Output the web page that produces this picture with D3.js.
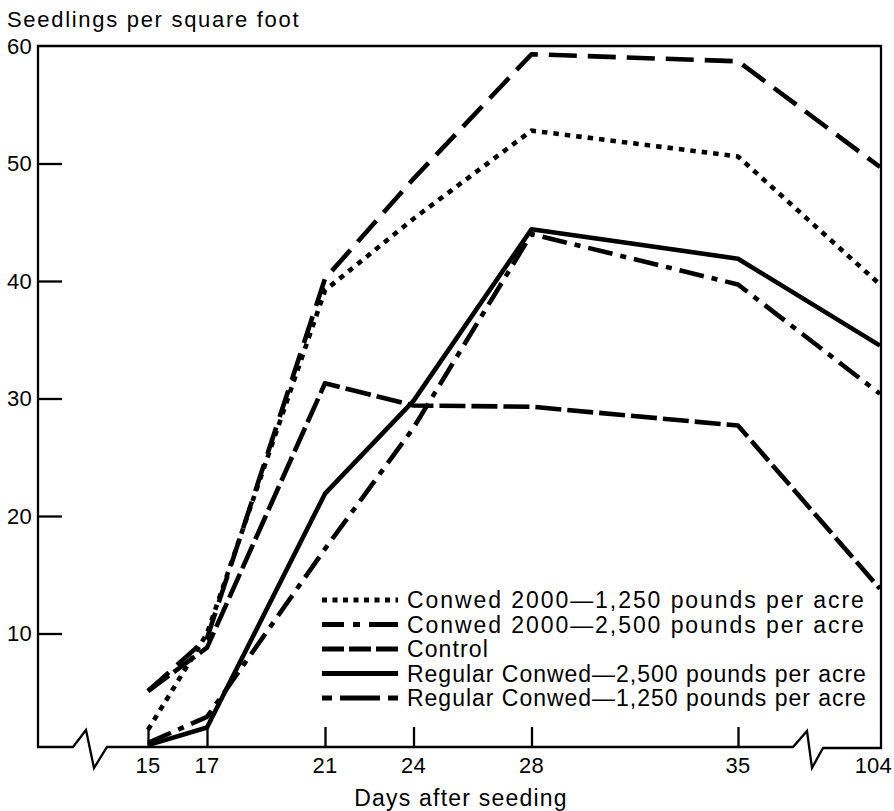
<!DOCTYPE html>
<html><head><meta charset="utf-8">
<script src="https://cdn.jsdelivr.net/npm/d3@7"></script>
<style>
body{margin:0;background:#fff}
text{font-family:"Liberation Sans",Arial,Helvetica,sans-serif;fill:#000}
</style>
</head><body>
<svg id="chart" width="894" height="811"></svg>
<script>
// ---- data ----
const days = [15, 17, 21, 24, 28, 35, 104];
const xTickLabels = ["15", "17", "21", "24", "28", "35", "104"];
const yTickValues = [10, 20, 30, 40, 50, 60];
const seriesNames = [
  "Conwed 2000\u20141,250 pounds per acre",
  "Conwed 2000\u20142,500 pounds per acre",
  "Control",
  "Regular Conwed\u20142,500 pounds per acre",
  "Regular Conwed\u20141,250 pounds per acre"
];
const conwed2000_1250 = [1.8, 10.0, 39.2, 45.3, 52.8, 50.6, 39.7];
const conwed2000_2500 = [5.1, 9.6, 40.2, 48.7, 59.3, 58.7, 49.7];
const control         = [5.1, 8.8, 31.3, 29.4, 29.3, 27.7, 13.8];
const regular2500     = [0.5, 2.0, 21.9, 29.8, 44.4, 41.9, 34.5];
const regular1250     = [0.7, 2.9, 17.2, 27.5, 44.0, 39.7, 30.4];
const seriesValues = [conwed2000_1250, conwed2000_2500, control, regular2500, regular1250];

// ---- styles ----
const lineDash   = ["5.5,6", "28,11", "26,6", null, "25,8,6,8"];
const legendDash = ["5,5.5", "22,9,7,9,29", "22,5,22,5,22", null, "10,8,40,8,10"];
const legendTextLen = [458, 458, null, 460, 460];

const svg = d3.select("#chart");
const x = d3.scaleLinear().domain([15, 35, 104]).range([148, 738, 880]);
const y = d3.scaleLinear().domain([0, 60]).range([751, 46]);
const leftX = 38, rightX = 881, topY = y(60), axisY = 747;

// frame with axis breaks
const fr = d3.path();
fr.moveTo(leftX, topY);
fr.lineTo(leftX, axisY);
fr.lineTo(73, axisY); fr.lineTo(86, axisY - 17); fr.lineTo(94, axisY + 21); fr.lineTo(107, axisY);
fr.lineTo(793, axisY); fr.lineTo(807, axisY - 16); fr.lineTo(812, axisY + 21); fr.lineTo(823, axisY + 1);
fr.lineTo(rightX, axisY + 1);
fr.lineTo(rightX, topY);
fr.closePath();
svg.append("path").attr("d", fr.toString()).attr("fill", "none")
  .attr("stroke", "#000").attr("stroke-width", 2.3);

// y ticks (inward)
const yAxis = d3.axisRight(y).tickValues(yTickValues.filter(v => v < 60)).tickSize(24).tickFormat("");
svg.append("g").attr("transform", `translate(${leftX},0)`).call(yAxis)
  .call(g => g.select(".domain").remove())
  .call(g => g.selectAll("line").attr("stroke", "#000").attr("stroke-width", 2.3));
svg.append("g").selectAll("text").data(yTickValues).join("text")
  .attr("x", 32).attr("y", d => y(d)).attr("dy", "0.36em")
  .attr("text-anchor", "end").style("font-size", "22px").style("letter-spacing", "0.3px")
  .text(d => d);

// x ticks (upward)
const xAxis = d3.axisTop(x).tickValues(days.slice(0, 6)).tickSize(20).tickFormat("");
svg.append("g").attr("transform", `translate(0,${axisY})`).call(xAxis)
  .call(g => g.select(".domain").remove())
  .call(g => g.selectAll("line").attr("stroke", "#000").attr("stroke-width", 2.3));
svg.append("g").selectAll("text").data(days).join("text")
  .attr("x", d => d === 104 ? 892 : x(d)).attr("y", 773)
  .attr("text-anchor", d => d === 104 ? "end" : "middle")
  .style("font-size", "22px").style("letter-spacing", "0.2px")
  .text((d, i) => xTickLabels[i]);

// titles
svg.append("text").attr("x", 7).attr("y", 27).style("font-size", "22px")
  .style("letter-spacing", "1.7px").text("Seedlings per square foot");
svg.append("text").attr("x", 461).attr("y", 806).attr("text-anchor", "middle")
  .style("font-size", "23px").style("letter-spacing", "1.2px").text("Days after seeding");

// series lines
const line = d3.line().x((d, i) => x(days[i])).y(d => y(d));
svg.append("g").selectAll("path").data(seriesValues).join("path")
  .attr("d", d => line(d))
  .attr("fill", "none").attr("stroke", "#000").attr("stroke-width", 4.6)
  .attr("stroke-linejoin", "round")
  .attr("stroke-dasharray", (d, i) => lineDash[i]);

// legend
const rowY = d3.scaleLinear().domain([0, 4]).range([600, 698]);
const lg = svg.append("g");
seriesNames.forEach((name, i) => {
  lg.append("line").attr("x1", 322).attr("x2", 398)
    .attr("y1", rowY(i)).attr("y2", rowY(i))
    .attr("stroke", "#000").attr("stroke-width", 5)
    .attr("stroke-dasharray", legendDash[i]);
  const t = lg.append("text").attr("x", 407).attr("y", rowY(i)).attr("dy", "0.36em")
    .style("font-size", "23px").style("letter-spacing", "1.1px").text(name);
  if (legendTextLen[i]) t.attr("textLength", legendTextLen[i]).attr("lengthAdjust", "spacing");
});
</script>
</body></html>
